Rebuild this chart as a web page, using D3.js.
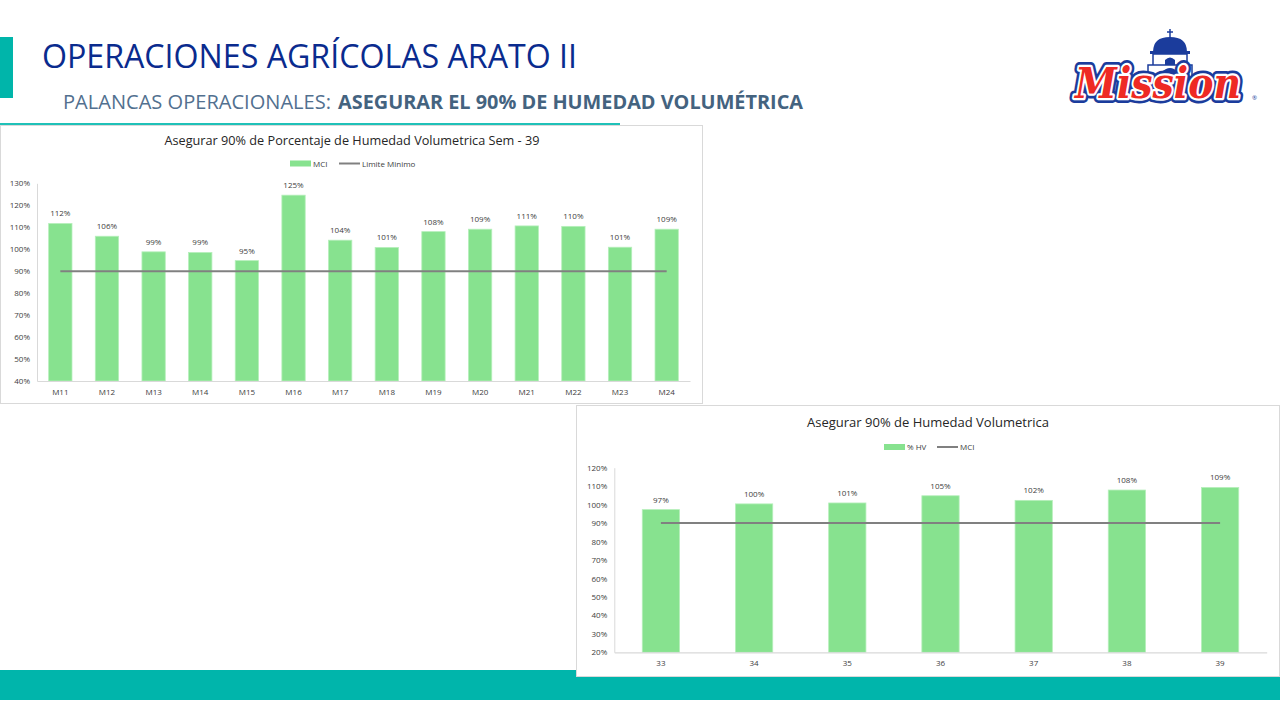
<!DOCTYPE html>
<html>
<head>
<meta charset="utf-8">
<script src="https://cdn.jsdelivr.net/npm/d3@7"></script>
<style>
  html, body { margin: 0; padding: 0; background: #ffffff; }
  svg { display: block; }
</style>
</head>
<body>
<svg id="root" width="1280" height="720"></svg>
<script>
// ---- Data ----
const categories1 = ["M11","M12","M13","M14","M15","M16","M17","M18","M19","M20","M21","M22","M23","M24"];
const mciValues1 = [111.7,105.9,98.8,98.5,94.8,124.6,104.1,100.8,108.0,109.1,110.6,110.4,100.9,109.1];
const limiteMinimo1 = [90,90,90,90,90,90,90,90,90,90,90,90,90,90];
const yTicks1 = [40,50,60,70,80,90,100,110,120,130];

const categories2 = ["33","34","35","36","37","38","39"];
const hvValues2 = [97.3,100.4,100.9,104.8,102.3,107.9,109.3];
const mciLine2 = [90,90,90,90,90,90,90];
const yTicks2 = [20,30,40,50,60,70,80,90,100,110,120];

const svg = d3.select("#root");
const FONT = "'Open Sans', 'Noto Sans', sans-serif";
const BAR = "#87e28f";
const LINE = "#808080";

// ---- Header ----
svg.append("rect").attr("x",0).attr("y",37).attr("width",13).attr("height",61).attr("fill","#00b5aa");
svg.append("text").attr("x",42).attr("y",68)
  .attr("font-family","'Liberation Sans Narrow', 'Open Sans', sans-serif")
  .attr("font-size",32).attr("fill","#0a2b8e")
  .attr("textLength",535).attr("lengthAdjust","spacingAndGlyphs")
  .text("OPERACIONES AGRÍCOLAS ARATO II");
svg.append("text").attr("x",63).attr("y",109)
  .attr("font-family","'Liberation Sans Narrow', 'Open Sans', sans-serif")
  .attr("font-size",20).attr("fill","#52708f")
  .attr("textLength",268).attr("lengthAdjust","spacingAndGlyphs")
  .text("PALANCAS OPERACIONALES:");
svg.append("text").attr("x",338).attr("y",109)
  .attr("font-family","'Liberation Sans Narrow', 'Open Sans', sans-serif")
  .attr("font-size",20).attr("font-weight","bold").attr("fill","#44637f")
  .attr("textLength",465).attr("lengthAdjust","spacingAndGlyphs")
  .text("ASEGURAR EL 90% DE HUMEDAD VOLUMÉTRICA");
svg.append("rect").attr("x",0).attr("y",123).attr("width",620).attr("height",2).attr("fill","#1fc1b8");

// ---- Bottom band ----
svg.append("rect").attr("x",0).attr("y",670).attr("width",1280).attr("height",30).attr("fill","#00b5ab");

// ---- Logo ----
const logo = svg.append("g");
const bx = 1170;
const BLUE = "#1b3c9c";
logo.append("line").attr("x1",bx).attr("x2",bx).attr("y1",29).attr("y2",38).attr("stroke",BLUE).attr("stroke-width",1.5);
logo.append("line").attr("x1",bx-3).attr("x2",bx+3).attr("y1",32).attr("y2",32).attr("stroke",BLUE).attr("stroke-width",1.5);
logo.append("path").attr("d",`M${bx-17},52 Q${bx-17},37 ${bx},37 Q${bx+17},37 ${bx+17},52 Z`).attr("fill",BLUE);
logo.append("rect").attr("x",bx-20).attr("y",51).attr("width",40).attr("height",3).attr("fill",BLUE);
logo.append("rect").attr("x",bx-17).attr("y",54).attr("width",34).attr("height",12).attr("fill","#ffffff").attr("stroke",BLUE).attr("stroke-width",1.5);
logo.append("path").attr("d",`M${bx-5},66 L${bx-5},60 Q${bx},55 ${bx+5},60 L${bx+5},66 Z`).attr("fill",BLUE);
logo.append("rect").attr("x",bx-22).attr("y",65).attr("width",44).attr("height",12).attr("fill","#ffffff").attr("stroke",BLUE).attr("stroke-width",1.5);
logo.append("path").attr("d",`M${bx-8},77 L${bx-8},72 Q${bx},64 ${bx+8},72 L${bx+8},77 Z`).attr("fill",BLUE);

// wordmark: measure natural width, fit to 166px, stretch vertically
const probe = svg.append("text").attr("font-family","'DejaVu Serif', serif").attr("font-weight","bold")
  .attr("font-style","italic").attr("font-size",42).text("Mission");
const natW = probe.node().getComputedTextLength() || 190;
probe.remove();
const fs = 42 * 166 / natW;
const wg = logo.append("g").attr("transform",`translate(1075,98) scale(1,${42/fs})`);
const word = (stroke, sw, fill) => wg.append("text").attr("x",0).attr("y",0)
  .attr("font-family","'DejaVu Serif', serif").attr("font-weight","bold").attr("font-style","italic")
  .attr("font-size",fs)
  .attr("fill",fill).attr("stroke",stroke).attr("stroke-width",sw).attr("stroke-linejoin","round")
  .text("Mission");
word(BLUE, 9, BLUE);
word("#ffffff", 4, "#ffffff");
word("none", 0, "#ee2a24");
logo.append("text").attr("x",1252).attr("y",100).attr("font-family",FONT).attr("font-size",6).attr("fill",BLUE).text("®");

// ---- Chart builder ----
function drawChart(cfg) {
  const g = svg.append("g");
  g.append("rect").attr("x",cfg.box[0]+0.5).attr("y",cfg.box[1]+0.5)
    .attr("width",cfg.box[2]).attr("height",cfg.box[3])
    .attr("fill","#ffffff").attr("stroke","#d9d9d9").attr("stroke-width",1);

  g.append("text").attr("x",cfg.titleX).attr("y",cfg.titleY).attr("text-anchor","middle")
    .attr("font-family",FONT).attr("font-size",12.5).attr("fill","#262626")
    .attr("textLength",cfg.titleLen).attr("lengthAdjust","spacingAndGlyphs")
    .text(cfg.title);

  const L = cfg.legend;
  g.append("rect").attr("x",L.rectX).attr("y",L.y-3).attr("width",21).attr("height",6).attr("fill",BAR);
  g.append("text").attr("x",L.rectX+23).attr("y",L.y+3).attr("font-family",FONT).attr("font-size",8).attr("fill","#404040").text(L.barName);
  g.append("line").attr("x1",L.lineX).attr("x2",L.lineX+21).attr("y1",L.y).attr("y2",L.y).attr("stroke",LINE).attr("stroke-width",2);
  g.append("text").attr("x",L.lineX+23).attr("y",L.y+3).attr("font-family",FONT).attr("font-size",8).attr("fill","#404040").text(L.lineName);

  const x = d3.scaleBand().domain(cfg.categories).range([cfg.x0, cfg.x1]).paddingInner(cfg.pad).paddingOuter(cfg.pad/2);
  const y = d3.scaleLinear().domain(cfg.yDomain).range([cfg.y0, cfg.y1]);

  const ya = g.append("g").attr("transform",`translate(${cfg.x0},0)`)
    .call(d3.axisLeft(y).tickValues(cfg.yTicks).tickSize(0).tickPadding(7).tickFormat(d => d + "%"));
  ya.select(".domain").attr("stroke","#d9d9d9");
  ya.selectAll("text").attr("font-family",FONT).attr("font-size",8).attr("fill","#404040");

  g.selectAll("rect.bar").data(cfg.values).enter().append("rect").attr("class","bar")
    .attr("x",(d,i) => x(cfg.categories[i]))
    .attr("y",d => y(d))
    .attr("width",x.bandwidth())
    .attr("height",d => y(cfg.yDomain[0]) - y(d))
    .attr("fill",BAR).attr("stroke","#b6efbb").attr("stroke-width",0.8);

  const xa = g.append("g").attr("transform",`translate(0,${cfg.y0})`)
    .call(d3.axisBottom(x).tickSize(0).tickPadding(8));
  xa.select(".domain").attr("stroke","#d9d9d9").attr("stroke-width",1.2);
  xa.selectAll("text").attr("font-family",FONT).attr("font-size",8).attr("fill","#404040");

  const line = d3.line().x((d,i) => x(cfg.categories[i]) + x.bandwidth()/2).y(d => y(d));
  g.append("path").datum(cfg.lineValues).attr("d",line).attr("fill","none").attr("stroke",LINE).attr("stroke-width",2);

  g.selectAll("text.lbl").data(cfg.values).enter().append("text").attr("class","lbl")
    .attr("x",(d,i) => x(cfg.categories[i]) + x.bandwidth()/2)
    .attr("y",d => y(d) - 7)
    .attr("text-anchor","middle")
    .attr("font-family",FONT).attr("font-size",8).attr("fill","#404040")
    .text(d => Math.round(d) + "%");
}

drawChart({
  box:[0,125,702,278],
  title:"Asegurar 90% de Porcentaje de Humedad Volumetrica Sem - 39",
  titleX:352, titleY:145, titleLen:375,
  legend:{y:163.5, rectX:290, barName:"MCI", lineX:339, lineName:"Limite Minimo"},
  categories:categories1, values:mciValues1, lineValues:limiteMinimo1,
  yDomain:[40,130], yTicks:yTicks1,
  x0:37, x1:690, y0:381, y1:183.3, pad:0.5
});

drawChart({
  box:[576,405,703,271],
  title:"Asegurar 90% de Humedad Volumetrica",
  titleX:928, titleY:427, titleLen:242,
  legend:{y:447, rectX:884, barName:"% HV", lineX:937, lineName:"MCI"},
  categories:categories2, values:hvValues2, lineValues:mciLine2,
  yDomain:[20,120], yTicks:yTicks2,
  x0:614.3, x1:1266.7, y0:652.3, y1:467.7, pad:0.6
});
</script>
</body>
</html>
